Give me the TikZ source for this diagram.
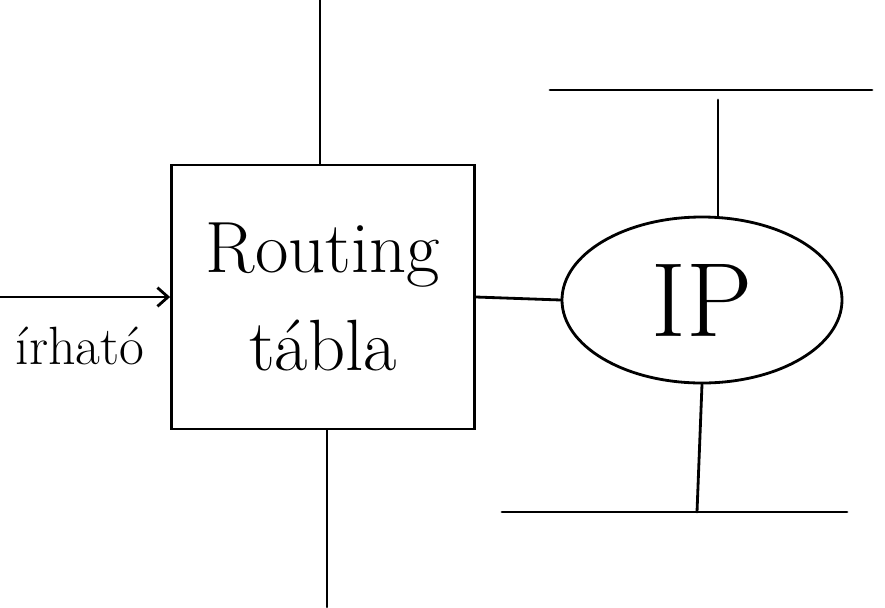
\documentclass[tikz,border=0pt]{standalone}
\usepackage{tikz}
\usetikzlibrary{arrows.meta,positioning,shapes.geometric}

\begin{document}
\begin{tikzpicture}[x=0.03cm,y=-0.03cm,line width=2.4pt,line cap=round,>={Straight Barb[length=9pt,width=16pt]},every node/.style={align=center}]
  \useasboundingbox (0,0) rectangle (885,607);
  \node[draw,minimum width=9.09cm,minimum height=7.92cm,font=\fontsize{62}{84}\selectfont] (rt) at (323,297) {Routing\\tábla};
  \node[draw,ellipse,minimum width=8.4cm,minimum height=4.98cm,font=\fontsize{90}{90}\selectfont] (ip) at (702,300) {IP};
  \node[font=\fontsize{46}{54}\selectfont] (wr) at (80,346) {írható};
  \coordinate (in) at (0,297);
  \coordinate (up) at (320,0);
  \coordinate (dn) at (327,607);
  \coordinate (b1l) at (550,90);\coordinate (b1r) at (872,90);
  \coordinate (b2l) at (502,512);\coordinate (b2r) at (847,512);
  \coordinate (b1m) at (718,100);\coordinate (b2m) at (697,512);
  \draw[->](in)--(rt.west);
  \draw(up)--(up |- rt.north);\draw(dn)--(dn |- rt.south);
  \draw(rt.east)--(ip.west);
  \draw(b1l)--(b1r);\draw(b1m)--(b1m |- ip.north);
  \draw(b2l)--(b2r);\draw(ip.south)--(b2m);
\end{tikzpicture}
\end{document}
